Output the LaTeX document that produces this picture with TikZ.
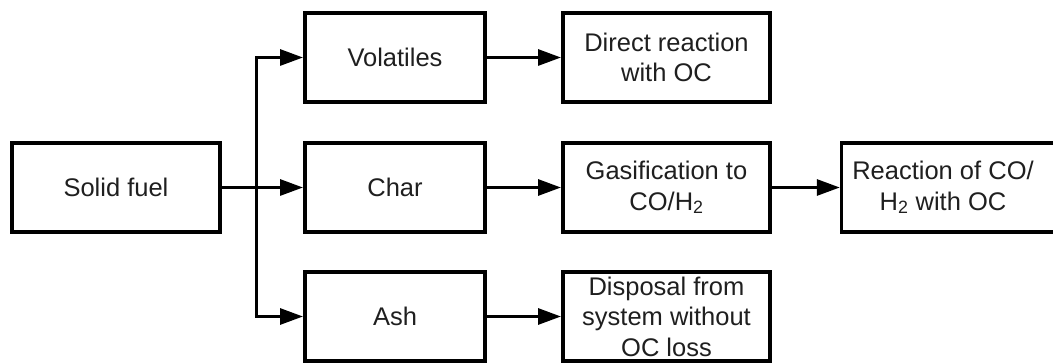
\documentclass[tikz,border=0pt]{standalone}
\usepackage{fontspec}
\setmainfont{Liberation Sans}
\usetikzlibrary{arrows.meta}
\begin{document}
\begin{tikzpicture}[x=1pt,y=-1pt,
    box/.style={draw=black, line width=3.6pt, rectangle, inner sep=0pt,
      align=center, font=\fontsize{25.5}{30.6}\selectfont, text=black!88},
    colA/.style={box, minimum width=208.4pt, minimum height=89.4pt},
    colB/.style={box, minimum width=180.4pt, minimum height=89.4pt},
    colC/.style={box, minimum width=207.4pt, minimum height=89.4pt},
    flow/.style={line width=3pt, line join=miter,
      -{Triangle[length=23pt,width=16pt]}},
    lbl/.style={align=center, inner sep=0pt, font=\fontsize{25.5}{30.6}\selectfont, text=black!88}]
  \useasboundingbox (0,0) rectangle (1053,363);
  \clip (0,0) rectangle (1053,363);

  % source
  \node[colA] (sf) at (116,187.5) {Solid fuel};

  % fractions
  \node[colB] (vol)  at (395,57.5)  {Volatiles};
  \node[colB] (char) at (395,187.5) {Char};
  \node[colB] (ash)  at (395,316.5) {Ash};

  % conversion steps
  \node[colC] (dir)  at (666.5,57.5)  {Direct reaction\\with OC};
  \node[colC] (gas)  at (666.5,187.5) {Gasification to\\CO/H\textsubscript{2}};
  \node[colC] (disp) at (666.5,316.5) {Disposal from\\system without\\OC loss};

  % last step, box runs past the right edge
  \node[box, minimum width=240pt, minimum height=89.4pt, anchor=west] (rx) at (839.8,187.5) {};
  \node[lbl] (rxt) at (943,187.5) {Reaction of CO/\\H\textsubscript{2} with OC};

  % branching from the solid fuel
  \coordinate (br) at (256,187.5);
  \draw[flow] (sf) -- (char);
  \draw[flow] (br) |- (vol);
  \draw[flow] (br) |- (ash);

  % downstream flows
  \draw[flow] (vol) -- (dir);
  \draw[flow] (char) -- (gas);
  \draw[flow] (ash) -- (disp);
  \draw[flow] (gas) -- (rx);
\end{tikzpicture}
\end{document}
